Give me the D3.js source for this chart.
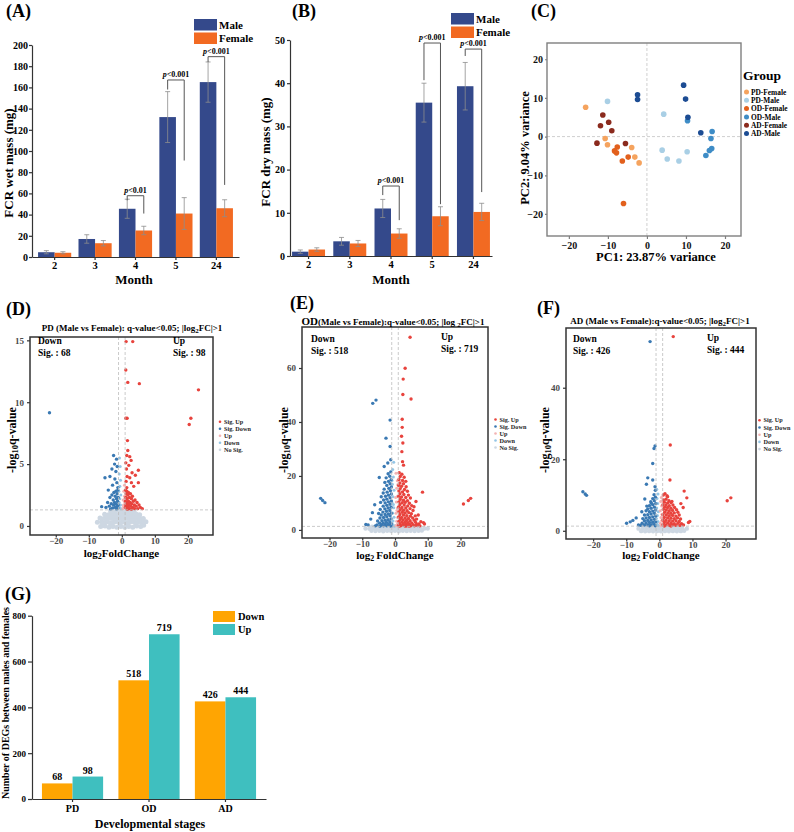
<!DOCTYPE html>
<html>
<head>
<meta charset="utf-8">
<script src="https://cdn.jsdelivr.net/npm/d3@7"></script>
<style>
body { margin: 0; background: #fff; }
svg text { font-family: 'Liberation Serif', 'Times New Roman', serif; font-weight: bold; }
</style>
</head>
<body>
<script>
// ---------- data ----------
var months = ["2", "3", "4", "5", "24"];
var sexes = ["Male", "Female"];

var wetMale = [4.5, 17, 45.5, 132, 165];
var wetMaleErr = [1.5, 4, 9, 24, 19];
var wetFemale = [4, 13, 25, 41, 46];
var wetFemaleErr = [1, 2.5, 4, 15, 8];
var wetTicks = [0, 20, 40, 60, 80, 100, 120, 140, 160, 180, 200];
var wetBrackets = [
  {month: "4", label: "<0.01", top: 57.8, left: 53.5, right: 41},
  {month: "5", label: "<0.001", top: 167, left: 158, right: 91},
  {month: "24", label: "<0.001", top: 189, left: 184, right: 68}
];

var dryMale = [1, 3.4, 11, 35.5, 39.3];
var dryMaleErr = [0.4, 0.9, 2.1, 4.5, 5.5];
var dryFemale = [1.5, 2.9, 5.2, 9.2, 10.2];
var dryFemaleErr = [0.4, 0.7, 1.1, 2.2, 2];
var dryTicks = [0, 10, 20, 30, 40, 50];
var dryBrackets = [
  {month: "4", label: "<0.001", top: 16.2, left: 14.1, right: 8.3},
  {month: "5", label: "<0.001", top: 49.3, left: 40.7, right: 12},
  {month: "24", label: "<0.001", top: 47.9, left: 46.3, right: 14.8}
];

var pcaGroups = ["PD-Female", "PD-Male", "OD-Female", "OD-Male", "AD-Female", "AD-Male"];
var pdFemale = [[-15.7, 7.6], [-10.7, -0.5], [-10.1, -2.1], [-3.9, -2.8], [-3.1, -5.3], [-2.0, -6.8]];
var pdMale = [[-10.1, 9.1], [4.3, 5.8], [3.9, -3.5], [5.2, -5.8], [8.2, -6.3], [10.3, -3.9]];
var odFemale = [[-7.6, -2.7], [-8.3, -3.7], [-7.8, -4.2], [-4.8, -5.3], [-6.3, -6.3], [-6.0, -17.3]];
var odMale = [[10.4, 4.1], [16.7, 1.3], [16.4, -0.5], [16.6, -3.1], [16.0, -3.6], [15.1, -4.9]];
var adFemale = [[-11.3, 5.6], [-9.8, 3.7], [-11.9, 2.8], [-9.0, 1.5], [-12.8, -1.7], [-5.5, -1.8]];
var adMale = [[-2.4, 10.8], [-2.4, 9.6], [9.4, 13.3], [9.9, 9.7], [10.5, 5.0], [13.8, 1.0]];
var pcaTicks = [-20, -10, 0, 10, 20];

var volcanoKeys = ["Sig. Up", "Sig. Down", "Up", "Down", "No Sig."];
var volcanoXTicks = [-20, -10, 0, 10, 20];

// PD
var pdSigUp = [[1.3,14.9],[3.3,14.9],[1.2,12.6],[1.8,11.6],[5.3,11.5],[23.2,11.0],[20.9,8.7],[20.4,8.2],[1.2,8.7],[1.6,8.7],
  [1.7,6.9],[1.8,6.1],[1.5,5.7],[2.4,5.6],[2.8,5.3],[1.2,5.1],[2.1,4.9],[1.4,4.6],[5.0,4.5],[3.1,4.3],[1.6,4.0],[2.4,3.9],
  [4.1,4.1],[1.3,3.6],[5.0,3.5],[2.9,3.5],[3.6,3.2],[1.5,3.1],[1.1,2.9],[1.5,2.8],[2.0,2.7],[1.3,2.6],[2.6,2.6],[1.8,2.5],
  [3.2,2.4],[1.2,2.3],[2.3,2.3],[1.6,2.2],[2.9,2.2],[4.0,2.1],[1.1,2.0],[2.0,2.0],[3.5,2.0],[1.4,1.9],[2.5,1.9],[4.6,1.9],
  [1.8,1.8],[3.0,1.8],[1.2,1.7],[2.2,1.7],[3.8,1.7],[5.2,1.7],[1.5,1.6],[2.7,1.6],[4.3,1.6],[1.1,1.5],[1.9,1.5],[3.3,1.5],
  [5.6,1.5],[1.4,1.4],[2.4,1.4],[3.9,1.4],[4.8,1.4],[6.2,1.4],[1.7,1.35],[2.9,1.35]];
var pdSigDown = [[-21.9,9.15],[-2.5,5.7],[-1.6,5.4],[-2.2,5.0],[-1.4,4.8],[-3.0,4.6],[-1.8,4.4],[-5.1,3.9],[-3.6,4.0],
  [-2.1,3.8],[-1.5,3.5],[-2.8,3.3],[-1.2,3.1],[-4.1,2.9],[-1.2,2.9],[-1.8,2.8],[-2.4,2.7],[-1.4,2.6],[-3.0,2.5],[-2.0,2.4],
  [-1.1,2.3],[-3.6,2.3],[-1.6,2.2],[-2.6,2.1],[-1.3,2.0],[-2.2,1.9],[-4.3,1.9],[-1.8,1.8],[-3.2,1.8],[-1.1,1.7],[-2.5,1.7],
  [-1.5,1.6],[-3.8,1.6],[-2.0,1.5],[-1.2,1.45],[-2.8,1.45],[-4.8,1.5],[-6.1,1.56],[-1.6,1.38],[-3.4,1.38]];
var pdUp = [[0.6,2.8],[0.8,2.4],[0.4,2.1],[0.9,1.9],[0.5,1.7],[0.7,1.5],[0.3,1.4],[0.8,3.3],[0.9,2.2],[0.6,1.6]];
var pdDown = [[-0.7,5.5],[-0.5,4.8],[-0.8,4.2],[-0.4,3.7],[-0.6,3.2],[-0.9,2.8],[-0.3,2.5],[-0.6,2.2],[-0.8,1.9],
  [-0.4,1.7],[-0.7,1.5],[-0.2,1.4]];
var pdNoSig = [[-6.4,-0.05],[-5.1,0.0],[-3.9,-0.1],[-2.7,-0.05],[-1.5,-0.1],[-0.3,-0.05],[0.9,-0.1],[2.1,-0.05],[3.3,-0.1],
  [4.5,0.0],[5.7,-0.05],[6.6,0.05],[-7.4,0.3],[-6.1,0.35],[-4.8,0.3],[-3.6,0.25],[-2.4,0.3],[-1.2,0.35],[0.0,0.3],[1.2,0.25],
  [2.4,0.3],[3.6,0.35],[4.8,0.3],[6.0,0.25],[7.3,0.35],[-6.6,0.65],[-5.4,0.6],[-4.2,0.65],[-3.0,0.6],[-1.8,0.7],[-0.6,0.6],
  [0.6,0.65],[1.8,0.6],[3.0,0.7],[4.2,0.6],[5.4,0.65],[6.5,0.6],[-5.2,0.95],[-4.0,0.9],[-2.8,0.95],[-1.6,0.9],[-0.4,1.0],
  [0.8,0.9],[2.0,0.95],[3.2,0.9],[4.4,0.95],[5.4,0.9],[-3.4,1.2],[-2.2,1.15],[-1.0,1.25],[0.2,1.2],[1.4,1.15],[2.6,1.2],[3.6,1.15],
  [-5.8,0.15],[-4.4,0.5],[-3.0,0.15],[-1.8,0.45],[-0.6,0.15],[0.6,0.45],[1.8,0.15],[3.0,0.45],[4.2,0.15],[5.4,0.45],[6.6,0.35],
  [-4.6,0.8],[-3.4,0.8],[-2.2,0.8],[-1.0,0.8],[0.2,0.8],[1.4,0.8],[2.6,0.8],[3.8,0.8],[5.0,0.8],[-2.8,1.05],[-0.4,1.1],[2.0,1.05],[4.0,1.0]];

// OD
var odSigUp = [[4.6,71.4],[3.1,59.9],[2.5,55.9],[2.4,50.2],[4.9,48.5],[2.2,41.0],[2.2,38.0],[2.0,34.7],[2.4,32.2],[2.1,29.0],
  [2.3,25.3],[2.6,24.0],[8.4,14.0],[20.9,9.6],[22.4,10.9],[23.1,11.7],[6.4,10.5],[5.8,8.6],[7.1,5.5],[8.7,2.7],[9.0,2.2],
  [7.3,2.2],[7.9,3.0],
  [1.3,21.2],[2.1,20.6],[1.6,19.8],[2.8,19.5],[1.2,18.7],[2.3,18.3],[3.3,18.0],[1.5,17.4],[2.6,17.1],[1.1,16.5],[2.0,16.2],
  [3.4,16.0],[1.6,15.3],[2.9,15.0],[1.2,14.4],[2.3,14.1],[3.8,14.3],[1.5,13.4],[2.7,13.1],[4.1,12.9],[1.1,12.4],[2.0,12.2],
  [3.3,12.0],[4.7,11.8],[1.6,11.3],[2.6,11.0],[3.8,10.8],[1.2,10.4],[2.2,10.1],[3.1,10.2],[4.4,9.9],[1.5,9.4],[2.8,9.2],
  [3.9,8.9],[5.1,9.0],[1.1,8.5],[2.1,8.3],[3.3,8.1],[4.6,7.9],[1.6,7.5],[2.6,7.3],[3.7,7.1],[5.5,7.2],[1.2,6.7],[2.2,6.5],
  [3.1,6.3],[4.2,6.4],[5.0,6.0],[1.5,5.7],[2.6,5.5],[3.6,5.3],[4.7,5.1],[6.2,5.2],[1.1,4.8],[2.0,4.6],[3.1,4.4],[4.1,4.2],
  [5.4,4.4],[1.6,3.9],[2.5,3.7],[3.5,3.5],[4.6,3.4],[5.9,3.6],[6.6,4.0],[1.2,3.1],[2.1,2.9],[3.0,2.8],[4.0,2.7],[5.1,2.6],
  [6.3,2.8],[1.5,2.3],[2.5,2.1],[3.4,2.2],[4.4,2.0],[5.5,1.9],[6.6,2.0],[1.1,1.7],[2.0,1.6],[2.9,1.5],[3.8,1.6],[4.8,1.5],
  [5.9,1.5],[6.9,1.6],[7.6,1.5],[1.4,1.4],[3.3,1.4],[4.3,1.4]];
var odSigDown = [[-22.7,11.7],[-22.1,10.9],[-21.4,10.1],[-6.8,46.9],[-5.8,48.1],[-1.5,40.7],[-2.75,34.0],[-1.5,30.9],
  [-3.3,23.5],[-1.3,26.0],[-4.8,19.4],[-6.9,6.4],[-8.2,1.85],[-8.9,2.0],[-6.2,9.3],[-7.4,4.0],[-2.2,24.8],
  [-1.3,21.5],[-2.1,20.8],[-1.6,19.9],[-2.7,19.3],[-1.2,18.6],[-2.0,18.0],[-3.1,17.6],[-1.5,17.1],[-2.5,16.5],[-1.1,15.9],
  [-1.9,15.4],[-3.3,15.1],[-1.4,14.5],[-2.4,14.0],[-3.6,13.7],[-1.1,13.3],[-2.0,12.9],[-2.9,12.5],[-4.2,12.3],[-1.5,11.9],
  [-2.5,11.4],[-3.5,11.1],[-1.1,10.7],[-2.0,10.4],[-3.0,10.0],[-4.4,10.2],[-1.5,9.5],[-2.5,9.1],[-3.6,8.8],[-1.2,8.4],
  [-2.1,8.1],[-3.1,7.8],[-4.5,7.6],[-1.6,7.2],[-2.6,6.9],[-3.7,6.6],[-1.1,6.2],[-2.0,5.9],[-3.0,5.7],[-4.2,5.5],[-5.0,6.1],
  [-1.5,5.2],[-2.5,4.9],[-3.5,4.6],[-4.6,4.4],[-1.2,4.1],[-2.1,3.8],[-3.0,3.6],[-4.0,3.4],[-5.3,3.3],[-1.6,3.0],[-2.6,2.8],
  [-3.6,2.6],[-4.7,2.5],[-1.1,2.3],[-2.0,2.1],[-3.0,2.0],[-4.1,1.9],[-5.5,1.8],[-1.5,1.6],[-2.5,1.5],[-3.5,1.5],[-4.6,1.4],
  [-1.2,1.4],[-6.0,1.5]];
var odUp = [[0.3,21.0],[0.7,18.2],[0.5,15.4],[0.8,12.6],[0.4,10.3],[0.7,8.1],[0.3,6.2],[0.8,4.6],[0.5,3.2],[0.7,2.1],
  [0.3,1.6],[0.9,1.4],[0.6,7.2],[0.2,12.0],[0.85,16.8]];
var odDown = [[-0.4,25.1],[-0.7,22.4],[-0.5,19.6],[-0.8,16.9],[-0.3,14.7],[-0.6,12.3],[-0.9,10.1],[-0.4,8.2],[-0.7,6.3],
  [-0.3,4.7],[-0.6,3.3],[-0.8,2.1],[-0.4,1.6],[-0.2,1.4],[-0.5,9.4],[-0.9,18.3]];
var odNoSig = [[-7.2,-0.3],[-6.0,-0.4],[-4.8,-0.3],[-3.6,-0.5],[-2.4,-0.3],[-1.2,-0.4],[0.0,-0.3],[1.2,-0.5],[2.4,-0.3],
  [3.6,-0.4],[4.8,-0.3],[6.0,-0.4],[7.2,-0.3],[8.2,-0.2],[-9.0,0.5],[-7.8,0.4],[-6.6,0.6],[-5.4,0.5],[-4.2,0.4],[-3.0,0.6],
  [-1.8,0.5],[-0.6,0.4],[0.6,0.6],[1.8,0.5],[3.0,0.4],[4.2,0.6],[5.4,0.5],[6.6,0.4],[7.8,0.6],[9.0,0.5],[10.0,0.5],
  [-7.0,1.2],[-5.8,1.1],[-4.6,1.3],[-3.4,1.2],[-2.2,1.1],[-1.0,1.3],[0.2,1.2],[1.4,1.1],[2.6,1.3],[3.8,1.2],[5.0,1.1],
  [6.2,1.3],[7.4,1.2]];

// AD
var adSigUp = [[4.2,54.3],[3.3,24.0],[3.2,14.2],[7.5,11.1],[8.3,9.2],[21.6,9.2],[20.5,8.4],[8.8,2.3],[9.2,2.6],[1.7,10.4],
  [2.3,9.8],[6.5,7.6],[7.2,6.5],[1.2,10.0],
  [1.2,8.6],[2.0,8.8],[2.9,8.4],[1.5,8.0],[2.5,7.8],[3.5,7.9],[1.1,7.3],[2.0,7.2],[3.0,7.0],[4.1,7.2],[1.6,6.6],[2.5,6.5],
  [3.5,6.3],[4.6,6.5],[1.2,6.0],[2.1,5.8],[3.0,5.6],[4.0,5.7],[5.2,5.9],[1.6,5.2],[2.6,5.0],[3.5,4.9],[4.5,5.0],[5.6,5.2],
  [1.1,4.5],[2.1,4.4],[3.0,4.2],[4.0,4.3],[5.0,4.1],[6.0,4.4],[1.5,3.7],[2.5,3.6],[3.5,3.5],[4.5,3.4],[5.5,3.6],[6.4,3.3],
  [1.1,3.0],[2.0,2.9],[3.0,2.8],[4.0,2.7],[5.0,2.8],[6.0,2.6],[1.5,2.3],[2.5,2.2],[3.5,2.1],[4.5,2.0],[5.6,2.1],[6.7,2.0],
  [1.1,1.7],[2.0,1.6],[3.0,1.5],[4.0,1.6],[5.0,1.5],[6.2,1.5],[7.3,1.6],[1.5,1.35],[3.5,1.35],[2.5,9.5],[3.8,8.2]];
var adSigDown = [[-2.8,52.9],[-23.1,10.9],[-22.4,10.3],[-22.0,9.9],[-1.3,23.7],[-1.6,23.0],[-2.0,18.8],[-3.5,14.8],
  [-2.0,14.2],[-3.9,13.0],[-1.3,12.3],[-9.9,2.1],[-8.8,2.5],[-8.0,2.9],[-5.3,5.3],[-7.0,3.6],[-4.4,8.9],[-1.2,11.3],
  [-1.2,9.4],[-2.0,9.0],[-1.5,8.4],[-2.6,8.1],[-1.1,7.6],[-2.0,7.3],[-3.0,7.0],[-1.5,6.6],[-2.5,6.3],[-3.5,6.1],[-1.1,5.8],
  [-2.0,5.5],[-3.0,5.3],[-4.0,5.6],[-1.5,4.9],[-2.5,4.7],[-3.5,4.5],[-4.5,4.4],[-1.1,4.1],[-2.0,3.9],[-3.0,3.7],[-4.0,3.6],
  [-5.0,3.4],[-1.5,3.2],[-2.5,3.0],[-3.5,2.9],[-4.5,2.8],[-1.1,2.5],[-2.0,2.4],[-3.0,2.3],[-4.0,2.2],[-5.2,2.1],[-1.5,1.8],
  [-2.5,1.7],[-3.5,1.6],[-4.5,1.6],[-5.6,1.5],[-1.2,1.4],[-3.0,1.4],[-6.3,1.6],[-1.6,10.1],[-2.4,7.7],[-3.8,6.9]];
var adUp = [[0.4,8.2],[0.7,6.9],[0.3,5.6],[0.8,4.6],[0.5,3.7],[0.7,2.8],[0.3,2.1],[0.8,1.6],[0.5,1.4],[0.6,9.3]];
var adDown = [[-0.4,10.3],[-0.7,9.0],[-0.5,7.6],[-0.8,6.4],[-0.3,5.3],[-0.6,4.3],[-0.9,3.4],[-0.4,2.6],[-0.7,1.9],
  [-0.3,1.5],[-0.8,11.6]];
var adNoSig = [[-5.5,-0.1],[-4.3,-0.15],[-3.1,-0.1],[-1.9,-0.15],[-0.7,-0.1],[0.5,-0.15],[1.7,-0.1],[2.9,-0.15],[4.1,-0.1],
  [5.3,-0.15],[6.5,-0.1],[7.5,0.0],[-6.3,0.6],[-5.1,0.55],[-3.9,0.65],[-2.7,0.6],[-1.5,0.55],[-0.3,0.65],[0.9,0.6],
  [2.1,0.55],[3.3,0.65],[4.5,0.6],[5.7,0.55],[6.9,0.65],[8.3,0.6],[-4.5,1.2],[-3.3,1.15],[-2.1,1.25],[-0.9,1.2],[0.3,1.15],
  [1.5,1.25],[2.7,1.2],[3.9,1.15],[5.1,1.25],[6.3,1.2]];

var stages = ["PD", "OD", "AD"];
var degKeys = ["Down", "Up"];
var degDown = [68, 518, 426];
var degUp = [98, 719, 444];
var degTicks = [0, 200, 400, 600, 800];

// ---------- colours ----------
var sexColor = d3.scaleOrdinal().domain(sexes).range(["#34498b", "#f26a22"]);
var pcaColor = d3.scaleOrdinal().domain(pcaGroups)
  .range(["#f5a35e", "#a9cfe5", "#e2601d", "#3e8cc6", "#8b2a1d", "#1c4c93"]);
var volColor = d3.scaleOrdinal().domain(volcanoKeys)
  .range(["#e8433d", "#3a79b3", "#f3b3b3", "#94c6e6", "#cdd7e2"]);
var degColor = d3.scaleOrdinal().domain(degKeys).range(["#ffa502", "#3fbfbf"]);

var svg = d3.select("body").append("svg").attr("width", 794).attr("height", 832);

function styleAxis(sel, color, size, textColor) {
  sel.selectAll("path, line").attr("stroke", color).attr("stroke-width", 1.2);
  sel.selectAll("text").attr("font-size", size).attr("fill", textColor)
    .attr("font-family", "'Liberation Serif','Times New Roman',serif").attr("font-weight", "bold");
}

function panelLabel(txt, x, y) {
  svg.append("text").attr("x", x).attr("y", y).attr("font-size", 18).text(txt);
}

// rich text with subscripts: parts = [[text, isSub]]
function richText(sel, parts, subSize) {
  parts.forEach(function(p, i) {
    var t = sel.append("tspan").text(p[0]);
    if (p[1]) t.attr("font-size", subSize).attr("dy", 2);
    else if (i > 0 && parts[i - 1][1]) t.attr("dy", -2);
  });
}

// ---------- bar panels A and B ----------
function barPanel(cfg) {
  var g = svg.append("g");
  var x0 = d3.scaleBand().domain(months).range(cfg.xRange).paddingInner(cfg.padIn).paddingOuter(cfg.padOut);
  var x1 = d3.scaleBand().domain(sexes).range([0, x0.bandwidth()]);
  var y = d3.scaleLinear().domain([0, cfg.yTicks[cfg.yTicks.length - 1]]).range(cfg.yRange);

  var rows = months.map(function(m, i) {
    return [{month: m, sex: "Male", v: cfg.male[i], e: cfg.maleErr[i]},
            {month: m, sex: "Female", v: cfg.female[i], e: cfg.femaleErr[i]}];
  });
  var flat = [].concat.apply([], rows);

  g.selectAll("rect.bar").data(flat).enter().append("rect")
    .attr("class", "bar")
    .attr("x", d => x0(d.month) + x1(d.sex))
    .attr("y", d => y(d.v))
    .attr("width", x1.bandwidth())
    .attr("height", d => y(0) - y(d.v))
    .attr("fill", d => sexColor(d.sex));

  var cx = d => x0(d.month) + x1(d.sex) + x1.bandwidth() / 2;
  var eb = g.selectAll("g.err").data(flat).enter().append("g").attr("class", "err")
    .attr("stroke", "#8d8d8d").attr("stroke-width", 0.8);
  eb.append("line").attr("x1", cx).attr("x2", cx).attr("y1", d => y(d.v - d.e)).attr("y2", d => y(d.v + d.e));
  eb.append("line").attr("x1", d => cx(d) - 2.5).attr("x2", d => cx(d) + 2.5).attr("y1", d => y(d.v + d.e)).attr("y2", d => y(d.v + d.e));
  eb.append("line").attr("x1", d => cx(d) - 2.5).attr("x2", d => cx(d) + 2.5).attr("y1", d => y(d.v - d.e)).attr("y2", d => y(d.v - d.e));

  // significance brackets
  cfg.brackets.forEach(function(b) {
    var xl = x0(b.month) + x1("Male") + x1.bandwidth() / 2;
    var xr = x0(b.month) + x1("Female") + x1.bandwidth() / 2;
    g.append("path")
      .attr("d", "M" + xl + "," + y(b.left) + "V" + y(b.top) + "H" + xr + "V" + y(b.right))
      .attr("fill", "none").attr("stroke", "#555").attr("stroke-width", 1);
    var t = g.append("text").attr("x", (xl + xr) / 2).attr("y", y(b.top) - 3)
      .attr("text-anchor", "middle").attr("font-size", 8);
    t.append("tspan").attr("font-style", "italic").text("p");
    t.append("tspan").text(b.label);
  });

  var ax = g.append("g").attr("transform", "translate(0," + cfg.yRange[0] + ")")
    .call(d3.axisBottom(x0).tickSize(3).tickSizeOuter(0).tickPadding(2));
  styleAxis(ax, "#333", 10.5, "#000");
  var ay = g.append("g").attr("transform", "translate(" + cfg.xRange[0] + ",0)")
    .call(d3.axisLeft(y).tickValues(cfg.yTicks).tickSize(3).tickSizeOuter(0).tickPadding(cfg.tickPad));
  styleAxis(ay, "#333", 10, "#000");

  g.append("text").attr("x", cfg.xLabelX).attr("y", 284).attr("text-anchor", "middle")
    .attr("font-size", 13).text("Month");
  g.append("text").attr("transform", "translate(" + cfg.yLabelX + "," + cfg.yLabelY + ") rotate(-90)")
    .attr("text-anchor", "middle").attr("font-size", 13).text(cfg.yLabel);

  // legend
  sexes.forEach(function(s, i) {
    g.append("rect").attr("x", cfg.legX).attr("y", cfg.legY + i * 13.5).attr("width", 23).attr("height", 11.5)
      .attr("fill", sexColor(s));
    g.append("text").attr("x", cfg.legX + 25).attr("y", cfg.legY + i * 13.5 + 9.5).attr("font-size", 11).text(s);
  });
}

barPanel({
  xRange: [32, 239], padIn: 0.18, padOut: 0.15, yRange: [257, 45], yTicks: wetTicks, tickPad: 1,
  male: wetMale, maleErr: wetMaleErr, female: wetFemale, femaleErr: wetFemaleErr, brackets: wetBrackets,
  xLabelX: 134, yLabelX: 13, yLabelY: 163, yLabel: "FCR wet mass (mg)", legX: 194, legY: 19
});
barPanel({
  xRange: [290, 492], padIn: 0.2, padOut: 0.05, yRange: [256, 40], yTicks: dryTicks, tickPad: 2,
  male: dryMale, maleErr: dryMaleErr, female: dryFemale, femaleErr: dryFemaleErr, brackets: dryBrackets,
  xLabelX: 391, yLabelX: 270, yLabelY: 152, yLabel: "FCR dry mass (mg)", legX: 451, legY: 13
});
panelLabel("(A)", 6, 17);
panelLabel("(B)", 292, 17);

// ---------- PCA panel C ----------
(function() {
  var left = 547, right = 741, top = 43, bottom = 236;
  var x = d3.scaleLinear().domain([-25.6, 24.1]).range([left, right]);
  var y = d3.scaleLinear().domain([-25.7, 24.2]).range([bottom, top]);
  var g = svg.append("g");
  g.append("line").attr("x1", x(0)).attr("x2", x(0)).attr("y1", top).attr("y2", bottom)
    .attr("stroke", "#cfcfcf").attr("stroke-dasharray", "3,2");
  g.append("line").attr("x1", left).attr("x2", right).attr("y1", y(0)).attr("y2", y(0))
    .attr("stroke", "#cfcfcf").attr("stroke-dasharray", "3,2");
  var sets = [pdFemale, pdMale, odFemale, odMale, adFemale, adMale];
  sets.forEach(function(pts, i) {
    g.selectAll(null).data(pts).enter().append("circle")
      .attr("cx", d => x(d[0])).attr("cy", d => y(d[1])).attr("r", 2.8)
      .attr("fill", pcaColor(pcaGroups[i]));
  });
  g.append("rect").attr("x", left).attr("y", top).attr("width", right - left).attr("height", bottom - top)
    .attr("fill", "none").attr("stroke", "#7f7f7f").attr("stroke-width", 1.4);
  var ax = g.append("g").attr("transform", "translate(0," + bottom + ")")
    .call(d3.axisBottom(x).tickValues(pcaTicks).tickSize(3).tickPadding(3));
  ax.select(".domain").remove();
  styleAxis(ax, "#7f7f7f", 10, "#111");
  var ay = g.append("g").attr("transform", "translate(" + left + ",0)")
    .call(d3.axisLeft(y).tickValues(pcaTicks).tickSize(2).tickPadding(2));
  ay.select(".domain").remove();
  styleAxis(ay, "#7f7f7f", 10, "#111");
  g.append("text").attr("x", 656).attr("y", 261).attr("text-anchor", "middle").attr("font-size", 12.5)
    .text("PC1: 23.87% variance");
  g.append("text").attr("transform", "translate(529,148) rotate(-90)").attr("text-anchor", "middle")
    .attr("font-size", 12.5).text("PC2: 9.04% variance");
  g.append("text").attr("x", 743).attr("y", 80).attr("font-size", 13.5).text("Group");
  pcaGroups.forEach(function(k, i) {
    g.append("circle").attr("cx", 746.5).attr("cy", 92 + i * 8.3).attr("r", 2.5).attr("fill", pcaColor(k));
    g.append("text").attr("x", 751).attr("y", 94.7 + i * 8.3).attr("font-size", 7.4).text(k);
  });
})();
panelLabel("(C)", 531, 17);

// ---------- volcano panels D, E, F ----------
function volcano(cfg) {
  var x = d3.scaleLinear().domain(cfg.xDomain).range([cfg.left, cfg.right]);
  var y = d3.scaleLinear().domain(cfg.yDomain).range([cfg.bottom, cfg.top]);
  var g = svg.append("g");
  var layers = [["No Sig.", cfg.noSig, cfg.grayR], ["Down", cfg.down, 1.5], ["Up", cfg.up, 1.5],
                ["Sig. Down", cfg.sigDown, 1.7], ["Sig. Up", cfg.sigUp, 1.7]];
  layers.forEach(function(l) {
    g.selectAll(null).data(l[1]).enter().append("circle")
      .attr("cx", d => x(d[0])).attr("cy", d => y(d[1])).attr("r", l[2])
      .attr("fill", volColor(l[0]));
  });
  var dash = {stroke: "#bdbdbd", "stroke-dasharray": "3,2", "stroke-width": 0.8};
  [-1, 1].forEach(function(v) {
    var ln = g.append("line").attr("x1", x(v)).attr("x2", x(v)).attr("y1", cfg.top).attr("y2", cfg.bottom);
    for (var k in dash) ln.attr(k, dash[k]);
  });
  var hl = g.append("line").attr("x1", cfg.left).attr("x2", cfg.right).attr("y1", y(1.3)).attr("y2", y(1.3));
  for (var k in dash) hl.attr(k, dash[k]);

  g.append("rect").attr("x", cfg.left).attr("y", cfg.top).attr("width", cfg.right - cfg.left)
    .attr("height", cfg.bottom - cfg.top).attr("fill", "none").attr("stroke", "#333").attr("stroke-width", 1.5);

  var ax = g.append("g").attr("transform", "translate(0," + cfg.bottom + ")")
    .call(d3.axisBottom(x).tickValues(volcanoXTicks).tickSize(2.5).tickPadding(cfg.xPad));
  ax.select(".domain").remove();
  styleAxis(ax, "#333", 9, "#4a4a4a");
  var ay = g.append("g").attr("transform", "translate(" + cfg.left + ",0)")
    .call(d3.axisLeft(y).tickValues(cfg.yTicks).tickSize(3).tickPadding(3));
  ay.select(".domain").remove();
  styleAxis(ay, "#333", 9, "#4a4a4a");

  var mid = (cfg.left + cfg.right) / 2;
  var xt = g.append("text").attr("x", mid).attr("y", cfg.xLabelY).attr("text-anchor", "middle").attr("font-size", 11);
  richText(xt, [["log", false], [cfg.xSub, true], ["FoldChange", false]], 8);
  var yt = g.append("text").attr("transform", "translate(" + cfg.yLabelX + ",440) rotate(-90)")
    .attr("text-anchor", "middle").attr("font-size", 12);
  richText(yt, [["-log", false], ["10", true], ["q-value", false]], 8.5);

  var tt = g.append("text").attr("x", cfg.titleX).attr("y", cfg.titleY).attr("text-anchor", "middle").attr("font-size", 9);
  tt.append("tspan").attr("font-size", cfg.headSize).text(cfg.head);
  richText(tt, [[cfg.titleA, false], [cfg.titleSub, true], ["FC|>1", false]], 7);

  g.append("text").attr("x", cfg.downX).attr("y", cfg.downY).attr("font-size", 9.5).text("Down");
  g.append("text").attr("x", cfg.downX).attr("y", cfg.downY + 12.3).attr("font-size", 9.5).text("Sig. : " + cfg.nDown);
  g.append("text").attr("x", cfg.upX).attr("y", cfg.upY).attr("font-size", 9.5).text("Up");
  g.append("text").attr("x", cfg.upX).attr("y", cfg.upY + 12.3).attr("font-size", 9.5).text("Sig. : " + cfg.nUp);

  volcanoKeys.forEach(function(k, i) {
    var yy = cfg.legY + i * cfg.legStep;
    g.append("circle").attr("cx", cfg.legX).attr("cy", yy).attr("r", 1.3).attr("fill", volColor(k));
    g.append("text").attr("x", cfg.legX + 4).attr("y", yy + 2.1).attr("font-size", 6.2).attr("fill", "#222").text(k);
  });
}

volcano({
  left: 30, right: 213, top: 337, bottom: 535, xDomain: [-27.8, 27.6], yDomain: [-0.73, 15.27], yTicks: [0, 5, 10, 15],
  sigUp: pdSigUp, sigDown: pdSigDown, up: pdUp, down: pdDown, noSig: pdNoSig, grayR: 2.5, xPad: 0,
  xSub: "2", xLabelY: 557, yLabelX: 16, head: "PD", headSize: 9, titleA: " (Male vs Female): q-value<0.05; |log", titleSub: "2",
  titleX: 132, titleY: 331, downX: 38, downY: 344, upX: 173, upY: 344, nDown: 68, nUp: 98,
  legX: 220, legY: 421.7, legStep: 7.0
});
volcano({
  left: 302, right: 488, top: 327, bottom: 538, xDomain: [-28.4, 28.4], yDomain: [-3, 75.2], yTicks: [0, 20, 40, 60],
  sigUp: odSigUp, sigDown: odSigDown, up: odUp, down: odDown, noSig: odNoSig, grayR: 2.2, xPad: 0,
  xSub: "2 ", xLabelY: 559, yLabelX: 288, head: "OD", headSize: 11, titleA: "(Male vs Female):q-value<0.05; |log ", titleSub: "2",
  titleX: 393, titleY: 325, downX: 311, downY: 342, upX: 441, upY: 340, nDown: 518, nUp: 719,
  legX: 495.5, legY: 419.5, legStep: 7.0
});
volcano({
  left: 566, right: 756, top: 328, bottom: 539, xDomain: [-28.2, 29.2], yDomain: [-2.3, 56.7], yTicks: [0, 20, 40],
  sigUp: adSigUp, sigDown: adSigDown, up: adUp, down: adDown, noSig: adNoSig, grayR: 2.2, xPad: 0,
  xSub: "2 ", xLabelY: 559, yLabelX: 549, head: "AD", headSize: 9, titleA: " (Male vs Female):q-value<0.05; |log", titleSub: "2",
  titleX: 660, titleY: 324, downX: 573, downY: 342, upX: 707, upY: 341, nDown: 426, nUp: 444,
  legX: 759.5, legY: 420.3, legStep: 7.2
});
panelLabel("(D)", 6, 315);
panelLabel("(E)", 290, 309);
panelLabel("(F)", 537, 314);

// ---------- DEG counts panel G ----------
(function() {
  var g = svg.append("g");
  var xs = d3.scaleBand().domain(stages).range([32, 266]).paddingInner(0.2).paddingOuter(0.13);
  var xk = d3.scaleBand().domain(degKeys).range([0, xs.bandwidth()]);
  var y = d3.scaleLinear().domain([0, 800]).range([799, 615.7]);
  var flat = [];
  stages.forEach(function(s, i) {
    flat.push({stage: s, key: "Down", v: degDown[i]});
    flat.push({stage: s, key: "Up", v: degUp[i]});
  });
  g.selectAll("rect.deg").data(flat).enter().append("rect").attr("class", "deg")
    .attr("x", d => xs(d.stage) + xk(d.key)).attr("y", d => y(d.v))
    .attr("width", xk.bandwidth()).attr("height", d => y(0) - y(d.v)).attr("fill", d => degColor(d.key));
  g.selectAll("text.val").data(flat).enter().append("text").attr("class", "val")
    .attr("x", d => xs(d.stage) + xk(d.key) + xk.bandwidth() / 2).attr("y", d => y(d.v) - 3)
    .attr("text-anchor", "middle").attr("font-size", 10).text(d => d.v);
  var ax = g.append("g").attr("transform", "translate(0,799)")
    .call(d3.axisBottom(xs).tickSize(3).tickSizeOuter(0).tickPadding(3));
  styleAxis(ax, "#333", 10, "#000");
  var ay = g.append("g").attr("transform", "translate(32,0)")
    .call(d3.axisLeft(y).tickValues(degTicks).tickSize(4).tickSizeOuter(0).tickPadding(2));
  styleAxis(ay, "#333", 9, "#000");
  g.append("text").attr("x", 150).attr("y", 828).attr("text-anchor", "middle").attr("font-size", 12)
    .text("Developmental stages");
  g.append("text").attr("transform", "translate(9,703) rotate(-90)").attr("text-anchor", "middle")
    .attr("font-size", 10).text("Number of DEGs between males and females");
  degKeys.forEach(function(k, i) {
    g.append("rect").attr("x", 213).attr("y", 611 + i * 13).attr("width", 22).attr("height", 11).attr("fill", degColor(k));
    g.append("text").attr("x", 238).attr("y", 620 + i * 13).attr("font-size", 10.5).text(k);
  });
})();
panelLabel("(G)", 5, 600);
</script>
</body>
</html>
